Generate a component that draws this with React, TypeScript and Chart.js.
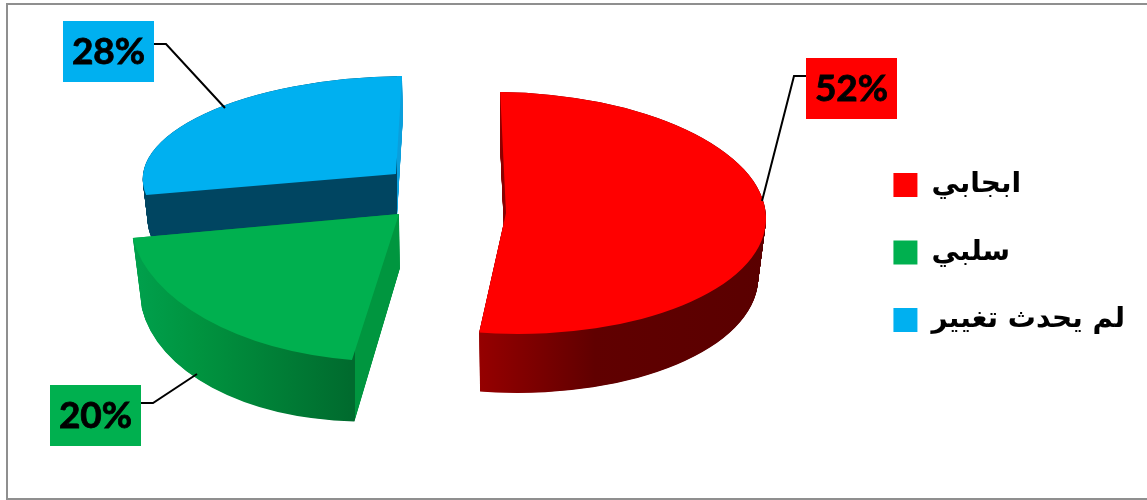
import React, { useEffect, useRef } from "react";
import { Chart, registerables } from "chart.js";

Chart.register(...registerables);

const categories = ["ابجابي", "سلبي", "لم يحدث تغيير"];
const shares = [52, 20, 28];
const sliceColors = ["#ff0000", "#00b04f", "#00b0f0"];

// Oblique projection of each slice: where its tip lands, the 2x2 matrix of its top face,
// then how the bottom face differs from the top one.
const projections = [
  { cx: 506, cy: 213, a: 260, b: 6, c: -1, d: 120.8, dx: 0, dy: 59, sx: 0.97, sy: 1, db: 0 },
  { cx: 399, cy: 214, a: 268, b: 7.6, c: -20.5, d: 147.5, dx: 1, dy: 54, sx: 0.97, sy: 1.04, db: -15 },
  { cx: 396, cy: 174, a: 253, b: -0.13, c: -12.6, d: 98, dx: 1, dy: 42, sx: 0.984, sy: 1, db: 0 },
];
const wallShades: [number, string][][] = [
  [[480, "#950000"], [595, "#600000"], [770, "#5a0000"]],
  [[135, "#00a04c"], [200, "#00933f"], [350, "#006b2e"], [354.5, "#006b2e"], [355, "#00963f"], [402, "#00963f"]],
  [[140, "#004561"], [396.5, "#004561"], [397, "#0a9fdc"], [404, "#0a9fdc"]],
];
const paintOrder = [2, 1, 0];

const callouts = [
  { box: [806, 58, 91, 61], line: [[806, 76], [794, 76], [762, 201]] },
  { box: [50, 385, 91, 61], line: [[141, 403], [153, 403], [197, 374]] },
  { box: [63, 21, 91, 61], line: [[154, 44], [166, 44], [225, 108]] },
];

const frame = { left: 7, top: 4, bottom: 499, color: "#8f8f8f", width: 2 };

function applyFace(ctx: any, arc: any, p: any, t: number) {
  const R = arc.outerRadius;
  const kx = 1 + (p.sx - 1) * t;
  const ky = 1 + (p.sy - 1) * t;
  const a = (p.a * kx) / R;
  const c = (p.c * kx) / R;
  const b = ((p.b + p.db * t) * ky) / R;
  const d = (p.d * ky) / R;
  const ox = p.cx + p.dx * t;
  const oy = p.cy + p.dy * t;
  ctx.transform(a, b, c, d, ox - a * arc.x - c * arc.y, oy - b * arc.x - d * arc.y);
}

const pie3d = {
  id: "pie3d",
  beforeDraw(chart: any) {
    const { ctx } = chart;
    ctx.save();
    ctx.fillStyle = "#ffffff";
    ctx.fillRect(0, 0, chart.width, chart.height);
    ctx.strokeStyle = frame.color;
    ctx.lineWidth = frame.width;
    ctx.beginPath();
    ctx.moveTo(chart.width, frame.top);
    ctx.lineTo(frame.left, frame.top);
    ctx.lineTo(frame.left, frame.bottom);
    ctx.lineTo(chart.width, frame.bottom);
    ctx.stroke();
    ctx.restore();
  },
  beforeDatasetDraw(chart: any, args: any) {
    const { ctx } = chart;
    const arcs = args.meta.data;
    const dpr = chart.currentDevicePixelRatio || 1;
    paintOrder.forEach((i) => {
      const arc = arcs[i];
      const p = projections[i];
      const off = document.createElement("canvas");
      off.width = chart.canvas.width;
      off.height = chart.canvas.height;
      const oc: any = off.getContext("2d");
      const steps = Math.ceil(p.dy * 2);
      for (let s = steps; s >= 0; s--) {
        oc.setTransform(dpr, 0, 0, dpr, 0, 0);
        applyFace(oc, arc, p, s / steps);
        arc.draw(oc);
      }
      oc.setTransform(dpr, 0, 0, dpr, 0, 0);
      oc.globalCompositeOperation = "source-in";
      const stops = wallShades[i];
      const x0 = stops[0][0];
      const x1 = stops[stops.length - 1][0];
      const g = oc.createLinearGradient(x0, 0, x1, 0);
      stops.forEach(([x, col]) => g.addColorStop((x - x0) / (x1 - x0), col));
      oc.fillStyle = g;
      oc.fillRect(0, 0, chart.width, chart.height);
      ctx.save();
      ctx.setTransform(1, 0, 0, 1, 0, 0);
      ctx.drawImage(off, 0, 0);
      ctx.restore();
      ctx.save();
      applyFace(ctx, arc, p, 0);
      arc.draw(ctx);
      ctx.restore();
    });
    return false;
  },
  afterDatasetsDraw(chart: any) {
    const { ctx } = chart;
    const values = chart.data.datasets[0].data as number[];
    const total = values.reduce((s, v) => s + v, 0);
    ctx.save();
    callouts.forEach((co, i) => {
      ctx.strokeStyle = "#000000";
      ctx.lineWidth = 2;
      ctx.beginPath();
      co.line.forEach(([x, y], k) => (k ? ctx.lineTo(x, y) : ctx.moveTo(x, y)));
      ctx.stroke();
      const [x, y, w, h] = co.box;
      ctx.fillStyle = sliceColors[i];
      ctx.fillRect(x, y, w, h);
      ctx.fillStyle = "#000000";
      ctx.strokeStyle = "#000000";
      ctx.lineWidth = 0.8;
      ctx.font = "bold 37px Lato";
      ctx.textAlign = "center";
      ctx.textBaseline = "middle";
      const label = Math.round((values[i] / total) * 100) + "%";
      ctx.fillText(label, x + w / 2, y + h / 2 + 1);
      ctx.strokeText(label, x + w / 2, y + h / 2 + 1);
    });
    ctx.restore();
  },
};

export default function App() {
  const ref = useRef<HTMLCanvasElement>(null);
  useEffect(() => {
    document.body.style.margin = "0";
    const chart = new Chart(ref.current as HTMLCanvasElement, {
      type: "pie",
      data: {
        labels: categories,
        datasets: [
          { data: shares, backgroundColor: sliceColors, borderWidth: 0 },
        ],
      },
      options: {
        responsive: false,
        animation: false,
        rotation: -1.5,
        layout: { padding: { top: 5, right: 12, left: 0, bottom: 0 } },
        plugins: {
          tooltip: { enabled: false },
          legend: {
            position: "right",
            labels: {
              boxWidth: 24,
              boxHeight: 24,
              padding: 39.5,
              color: "#000000",
              font: { family: "'DejaVu Sans'", size: 28, weight: "bold" },
            },
          },
        },
      },
      plugins: [pie3d],
    } as any);
    return () => chart.destroy();
  }, []);
  return <canvas ref={ref} width={1147} height={500} style={{ display: "block" }} />;
}
